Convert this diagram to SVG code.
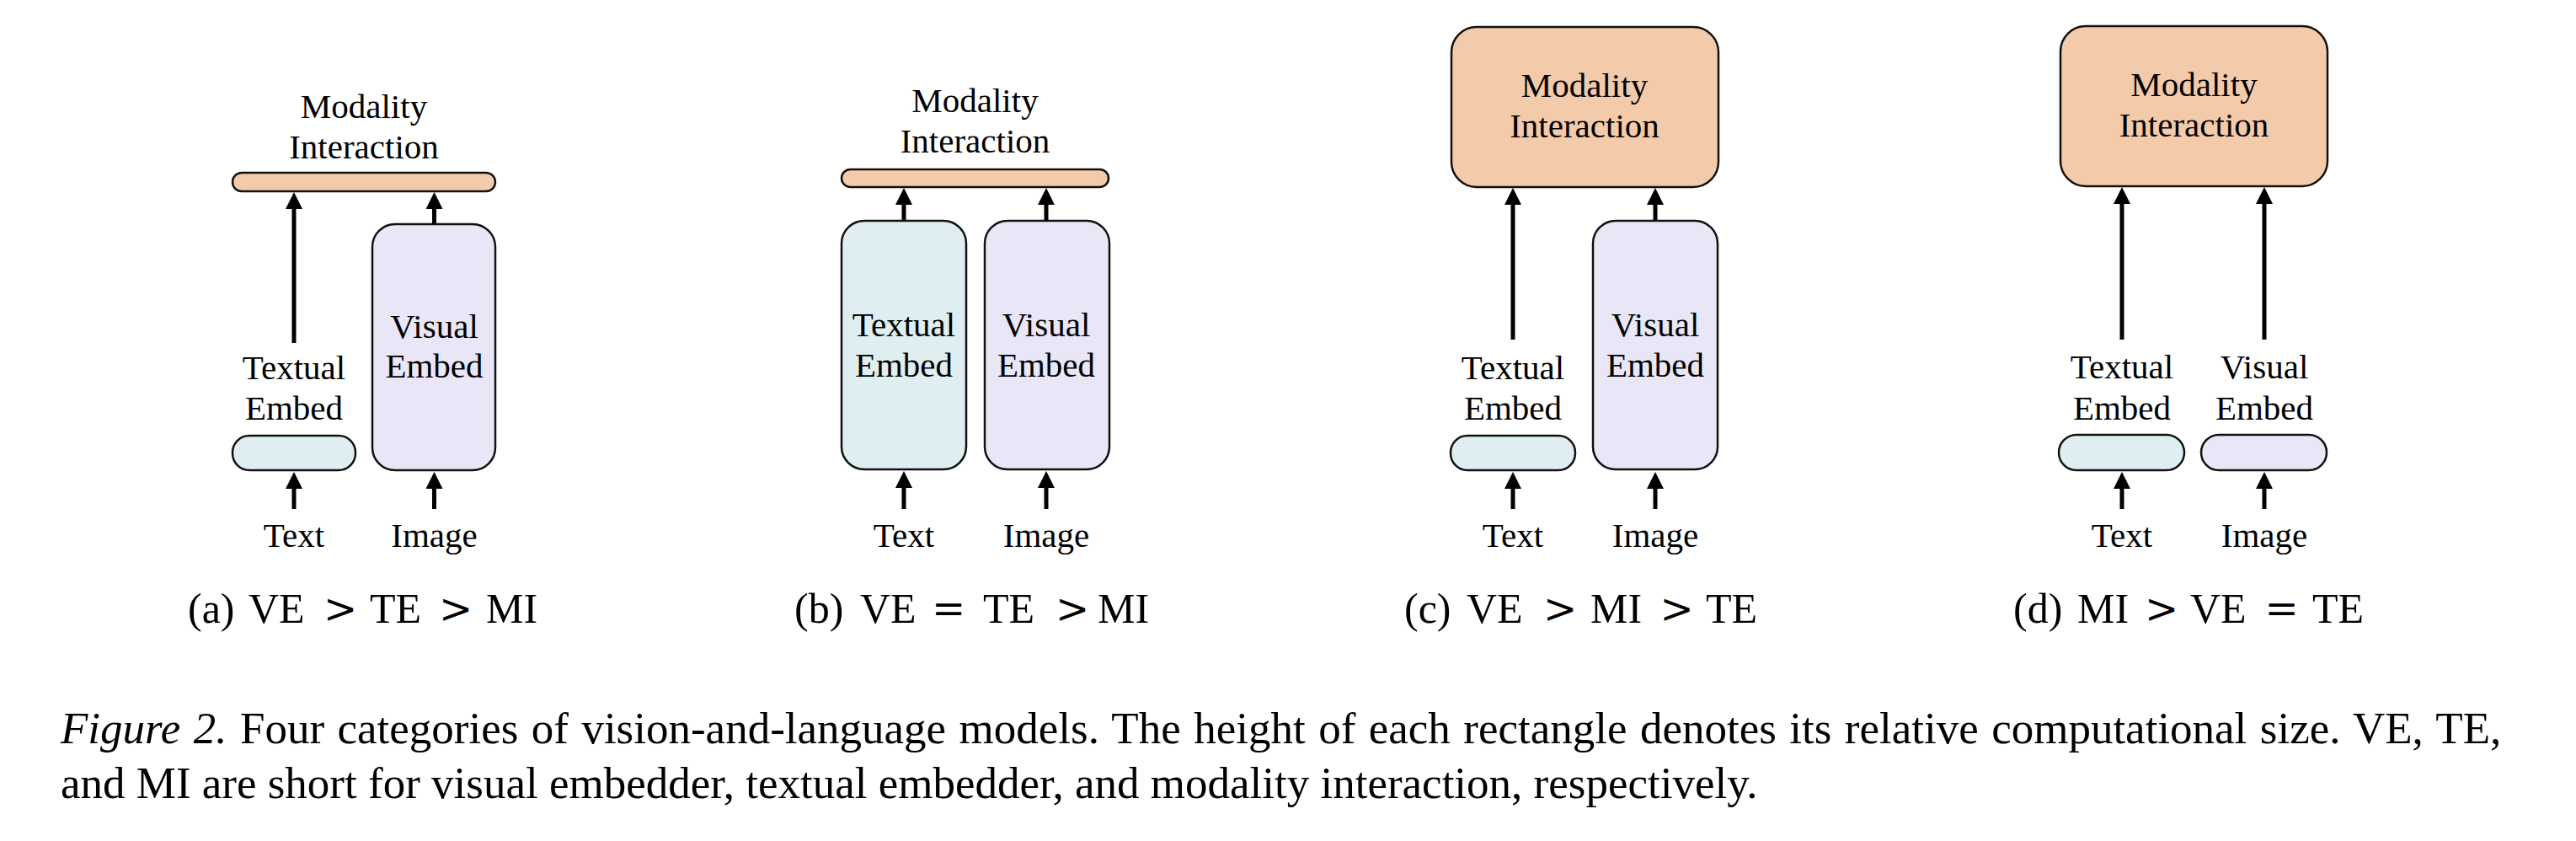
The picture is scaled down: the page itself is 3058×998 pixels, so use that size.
<svg xmlns="http://www.w3.org/2000/svg" width="3058" height="998" viewBox="0 0 3058 998">
<style>
.lbl{font-family:"Liberation Serif","Times New Roman",serif;font-size:41px;fill:#000;text-anchor:middle}
.cap{font-family:"Liberation Serif","Times New Roman",serif;font-size:50px;fill:#000}
.sym{font-family:"DejaVu Serif","Liberation Serif",serif;font-size:48px;fill:#000;text-anchor:middle}
.fig{font-family:"Liberation Serif","Times New Roman",serif;font-size:53px;fill:#000}
.mi{fill:#F4CBAA;stroke:#111;stroke-width:2.5}
.te{fill:#DFEEF0;stroke:#111;stroke-width:2.5}
.ve{fill:#E9E7F7;stroke:#111;stroke-width:2.5}
.arr{stroke:#000;stroke-width:5;fill:none;marker-end:url(#ah)}
</style>
<defs>
<marker id="ah" markerUnits="userSpaceOnUse" viewBox="0 0 20 20" markerWidth="20" markerHeight="20" refX="4" refY="10" orient="auto">
<path d="M0,0 L20,10 L0,20 Z" fill="#000"/>
</marker>
</defs>
<rect width="3058" height="998" fill="#fff"/>

<!-- Panel (a) -->
<g id="a-mi"><rect class="mi" x="276" y="205" width="312" height="22" rx="11"/>
<text class="lbl" x="432" y="140">Modality</text><text class="lbl" x="432" y="188">Interaction</text></g>
<g id="a-te"><rect class="te" x="276" y="517" width="146" height="41" rx="20"/>
<text class="lbl" x="349" y="450">Textual</text><text class="lbl" x="349" y="498">Embed</text></g>
<g id="a-ve"><rect class="ve" x="442" y="266" width="146" height="292" rx="27"/>
<text class="lbl" x="515.5" y="401">Visual</text><text class="lbl" x="515.5" y="448">Embed</text></g>
<g id="a-text"><text class="lbl" x="349" y="649">Text</text></g>
<g id="a-image"><text class="lbl" x="515.5" y="649">Image</text></g>

<!-- Panel (b) -->
<g id="b-mi"><rect class="mi" x="999" y="201" width="317" height="21" rx="10.5"/>
<text class="lbl" x="1157.5" y="133">Modality</text><text class="lbl" x="1157.5" y="181">Interaction</text></g>
<g id="b-te"><rect class="te" x="999" y="262" width="148" height="295" rx="27"/>
<text class="lbl" x="1073" y="399">Textual</text><text class="lbl" x="1073" y="447">Embed</text></g>
<g id="b-ve"><rect class="ve" x="1169" y="262" width="148" height="295" rx="27"/>
<text class="lbl" x="1242" y="399">Visual</text><text class="lbl" x="1242" y="447">Embed</text></g>
<g id="b-text"><text class="lbl" x="1073" y="649">Text</text></g>
<g id="b-image"><text class="lbl" x="1242" y="649">Image</text></g>

<!-- Panel (c) -->
<g id="c-mi"><rect class="mi" x="1723" y="32" width="317" height="190" rx="30"/>
<text class="lbl" x="1881" y="115">Modality</text><text class="lbl" x="1881" y="163">Interaction</text></g>
<g id="c-te"><rect class="te" x="1722" y="517" width="148" height="41" rx="20"/>
<text class="lbl" x="1796" y="450">Textual</text><text class="lbl" x="1796" y="498">Embed</text></g>
<g id="c-ve"><rect class="ve" x="1891" y="262" width="148" height="295" rx="27"/>
<text class="lbl" x="1965" y="399">Visual</text><text class="lbl" x="1965" y="447">Embed</text></g>
<g id="c-text"><text class="lbl" x="1796" y="649">Text</text></g>
<g id="c-image"><text class="lbl" x="1965" y="649">Image</text></g>

<!-- Panel (d) -->
<g id="d-mi"><rect class="mi" x="2446" y="31" width="317" height="190" rx="30"/>
<text class="lbl" x="2604.5" y="114">Modality</text><text class="lbl" x="2604.5" y="162">Interaction</text></g>
<g id="d-te"><rect class="te" x="2444" y="516" width="149" height="42" rx="21"/>
<text class="lbl" x="2519" y="449">Textual</text><text class="lbl" x="2519" y="498">Embed</text></g>
<g id="d-ve"><rect class="ve" x="2613" y="516" width="149" height="42" rx="21"/>
<text class="lbl" x="2688" y="449">Visual</text><text class="lbl" x="2688" y="498">Embed</text></g>
<g id="d-text"><text class="lbl" x="2519" y="649">Text</text></g>
<g id="d-image"><text class="lbl" x="2688" y="649">Image</text></g>

<!-- Connectors -->
<g id="connectors">
<line class="arr" x1="349" y1="407" x2="349" y2="244"/>
<line class="arr" x1="515.5" y1="266" x2="515.5" y2="244"/>
<line class="arr" x1="349" y1="604" x2="349" y2="576"/>
<line class="arr" x1="515.5" y1="604" x2="515.5" y2="576"/>

<line class="arr" x1="1073" y1="262" x2="1073" y2="239"/>
<line class="arr" x1="1242" y1="262" x2="1242" y2="239"/>
<line class="arr" x1="1073" y1="604" x2="1073" y2="575"/>
<line class="arr" x1="1242" y1="604" x2="1242" y2="575"/>

<line class="arr" x1="1796" y1="403" x2="1796" y2="239"/>
<line class="arr" x1="1965" y1="262" x2="1965" y2="239"/>
<line class="arr" x1="1796" y1="604" x2="1796" y2="576"/>
<line class="arr" x1="1965" y1="604" x2="1965" y2="576"/>

<line class="arr" x1="2519" y1="403" x2="2519" y2="238"/>
<line class="arr" x1="2688" y1="403" x2="2688" y2="238"/>
<line class="arr" x1="2519" y1="604" x2="2519" y2="576"/>
<line class="arr" x1="2688" y1="604" x2="2688" y2="576"/>
</g>

<!-- Sub-captions -->
<g id="cap-a">
<text class="cap" y="739"><tspan x="223">(a)</tspan><tspan x="295">VE</tspan><tspan x="439">TE</tspan><tspan x="577">MI</tspan></text>
<text class="sym" x="404" y="739">&gt;</text><text class="sym" x="541" y="739">&gt;</text>
</g>
<g id="cap-b">
<text class="cap" y="739"><tspan x="943">(b)</tspan><tspan x="1021">VE</tspan><tspan x="1167">TE</tspan><tspan x="1303">MI</tspan></text>
<text class="sym" x="1126" y="739">=</text><text class="sym" x="1273" y="739">&gt;</text>
</g>
<g id="cap-c">
<text class="cap" y="739"><tspan x="1667">(c)</tspan><tspan x="1741">VE</tspan><tspan x="1888">MI</tspan><tspan x="2025">TE</tspan></text>
<text class="sym" x="1852" y="739">&gt;</text><text class="sym" x="1990.5" y="739">&gt;</text>
</g>
<g id="cap-d">
<text class="cap" y="739"><tspan x="2390">(d)</tspan><tspan x="2466">MI</tspan><tspan x="2600">VE</tspan><tspan x="2745">TE</tspan></text>
<text class="sym" x="2566" y="739">&gt;</text><text class="sym" x="2708.5" y="739">=</text>
</g>

<!-- Figure caption -->
<g id="figure-caption">
<text class="fig" x="72" y="882" word-spacing="2.2"><tspan font-style="italic">Figure 2.</tspan> Four categories of vision-and-language models. The height of each rectangle denotes its relative computational size. VE, TE,</text>
<text class="fig" x="72" y="947">and MI are short for visual embedder, textual embedder, and modality interaction, respectively.</text>
</g>
</svg>
